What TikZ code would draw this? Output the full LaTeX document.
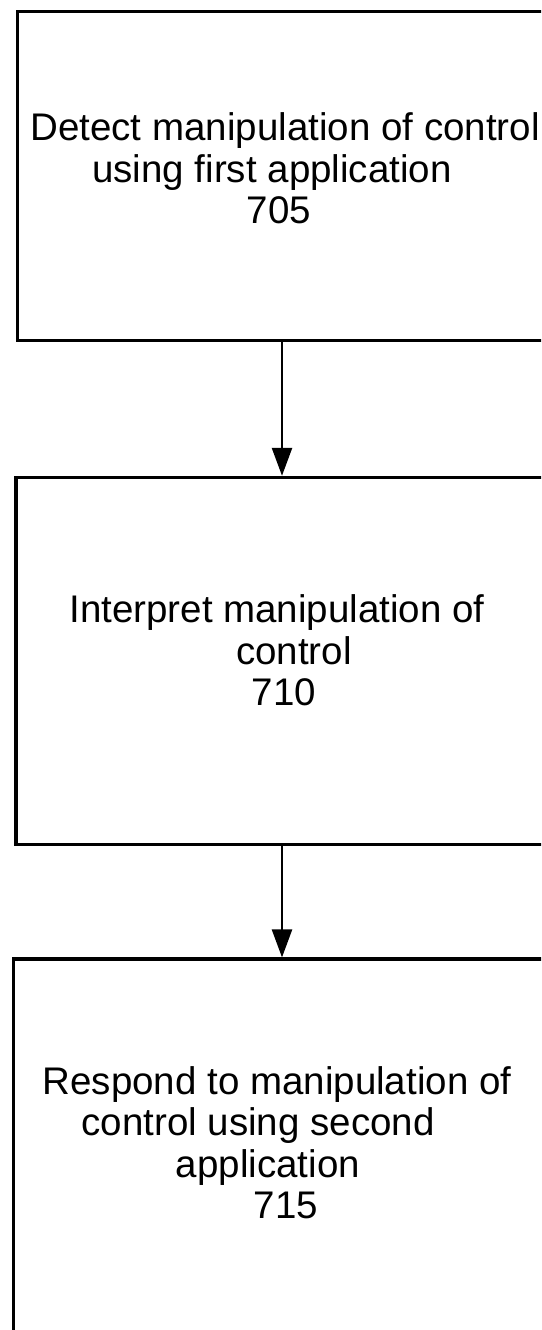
\documentclass[tikz,border=0pt]{standalone}
\usepackage{fontspec}
\setmainfont{Liberation Sans}
\usetikzlibrary{arrows.meta}
\newcommand\padR[2]{\mbox{#1\hspace{#2}}}
\newcommand\padL[2]{\mbox{\hspace{#2}#1}}
\begin{document}
\begin{tikzpicture}[x=1pt,y=-1pt,
  stepbox/.style={draw=black,line width=3.2pt,rectangle,inner sep=0pt,fill=none},
  steptext/.style={inner sep=0pt,align=center,font=\fontsize{38.5pt}{41.5pt}\selectfont},
  flow/.style={draw=black,line width=2.5pt,-{Triangle[width=20pt,length=28pt]}}]
\useasboundingbox (0,0) rectangle (541,1330);
\clip (0,0) rectangle (541,1330);
\fill[white] (0,0) rectangle (541,1330);
\node[stepbox,minimum width=552.5pt,minimum height=329.3pt] (b1) at (293.75,176.05) {};
\node[stepbox,minimum width=554pt,minimum height=366.8pt] (b2) at (293,660.8) {};
\node[stepbox,minimum width=556.5pt,minimum height=411pt] (b3) at (291.75,1164.5) {};
\node[steptext] (t1) at (282,168.25) {\padL{Detect manipulation of control}{6pt}\\\padR{using first application}{20pt}\\\padR{705}{6pt}};
\node[steptext] (t2) at (282,650.25) {\padR{Interpret manipulation of}{10pt}\\\padL{control}{24pt}\\\padL{710}{4pt}};
\node[steptext] (t3) at (282,1142.5) {\padR{Respond to manipulation of}{10pt}\\\padR{control using second}{48pt}\\\padR{application}{28pt}\\\padL{715}{8pt}};
\draw[flow] (b1.south -| t1) -- (b2.north -| t1);
\draw[flow] (b2.south -| t2) -- (b3.north -| t2);
\end{tikzpicture}
\end{document}
